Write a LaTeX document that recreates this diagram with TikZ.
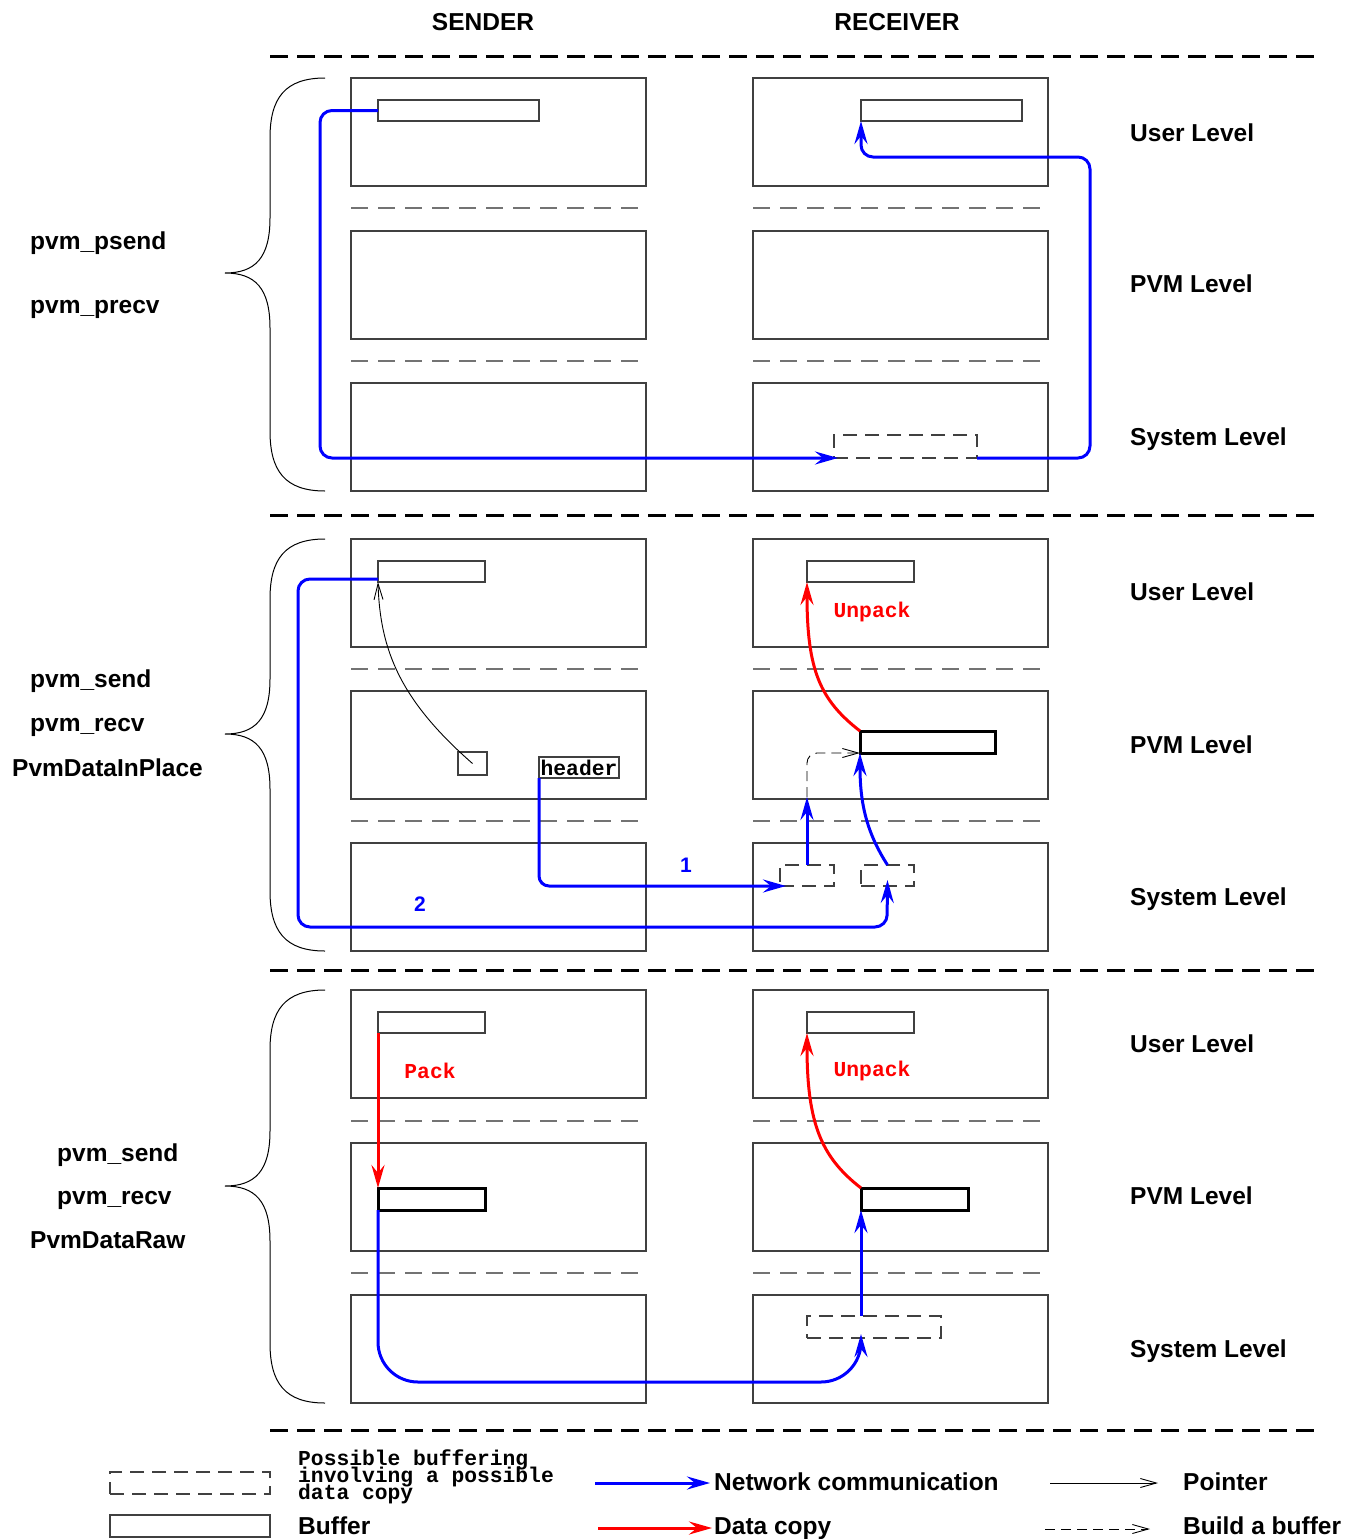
\documentclass[tikz,border=0pt]{standalone}
\usepackage{fontspec}
\setmainfont{Liberation Sans}
\newfontfamily\cour{Liberation Mono}
\usetikzlibrary{arrows.meta,calc}
\newcommand\tightls{\lineskiplimit=-30pt\relax\lineskip=0pt\relax}
\begin{document}
\begin{tikzpicture}[x=1pt,y=-1pt,
  lab/.style={font=\fontsize{24.5}{24.5}\selectfont\bfseries, anchor=base west, inner sep=0},
  ctr/.style={font=\fontsize{24.5}{24.5}\selectfont\bfseries, anchor=base, inner sep=0},
  cr/.style={font=\cour\fontsize{21.3}{17}\selectfont\bfseries\tightls, inner sep=0},
  num/.style={font=\fontsize{21}{21}\selectfont\bfseries, text=blue, anchor=base, inner sep=0},
  lvl/.style={draw=black!75, line width=1.3pt},
  sep/.style={draw=black!55, line width=1.3pt, dash pattern=on 17pt off 10pt},
  heavy/.style={draw=black, line width=3pt, dash pattern=on 18pt off 9pt},
  buf/.style={draw=black!75, line width=1.3pt, anchor=north west, inner sep=0, outer sep=0},
  tbuf/.style={draw=black, line width=3pt, anchor=north west, inner sep=0, outer sep=0},
  dbuf/.style={draw=black!75, line width=1.3pt, dash pattern=on 14pt off 8pt, anchor=north west, inner sep=0, outer sep=0},
  net/.style={draw=blue, line width=3pt, -{Stealth[length=23pt,width=13pt,inset=8pt]}},
  cpy/.style={draw=red, line width=3pt, -{Stealth[length=23pt,width=13pt,inset=8pt]}},
  ptr/.style={draw=black, line width=0.9pt, -{Straight Barb[length=16pt,width=9pt]}},
  bld/.style={ptr, dash pattern=on 10pt off 6pt},
  brace/.style={draw=black, line width=1pt},
]
\useasboundingbox (0,0) rectangle (1351,1539);

% column headers
\node[ctr] (snd) at (483,30) {SENDER};
\node[ctr] (rcv) at (897,30) {RECEIVER};

% heavy separators
\foreach \y in {56,515,970,1430} \draw[heavy] (270,\y) -- (1318,\y);

% level boxes
\foreach \y in {78,231,383,539,691,843,990,1143,1295} {
  \draw[lvl] (351,\y) rectangle (646,\y+108);
  \draw[lvl] (753,\y) rectangle (1048,\y+108);
}
% level separators
\foreach \y in {208,361,669,821,1121,1273} {
  \draw[sep] (351,\y) -- (646,\y);
  \draw[sep] (753,\y) -- (1048,\y);
}

% braces
\foreach \t/\b/\m in {78/491/273, 539/951/734, 990/1403/1186} {
  \draw[brace] (325,\t) .. controls (285,\t) and (270,\t+20) .. (270,\t+60)
    -- (270,\m-55) .. controls (270,\m-15) and (255,\m) .. (225,\m)
    .. controls (255,\m) and (270,\m+15) .. (270,\m+55)
    -- (270,\b-60) .. controls (270,\b-20) and (285,\b) .. (325,\b);
}

% left labels
\node[lab] (l1a) at (30,249) {pvm\_psend};
\node[lab] (l1b) at (30,313) {pvm\_precv};
\node[lab] (l2a) at (30,687) {pvm\_send};
\node[lab] (l2b) at (30,731) {pvm\_recv};
\node[lab] (l2c) at (12,776) {PvmDataInPlace};
\node[lab] (l3a) at (57,1161) {pvm\_send};
\node[lab] (l3b) at (57,1204) {pvm\_recv};
\node[lab] (l3c) at (30,1248) {PvmDataRaw};

% right labels
\foreach \n/\y/\t in {u1/141/User Level, p1/292/PVM Level, s1/445/System Level,
                      u2/600/User Level, p2/753/PVM Level, s2/905/System Level,
                      u3/1052/User Level, p3/1204/PVM Level, s3/1357/System Level} {
  \node[lab] (r\n) at (1130,\y) {\t};
}

% ===== Section 1 =====
\node[buf, minimum width=161, minimum height=21] (s1u) at (378,100) {};
\node[buf, minimum width=161, minimum height=21] (r1u) at (861,100) {};
\node[dbuf, minimum width=143, minimum height=23] (r1s) at (834,435) {};
\draw[net, rounded corners=12] (s1u.west) -- (320,110.5) -- (320,458) -- ($(r1s.south west)+(4,0)$);
\draw[net, rounded corners=12] (r1s.south east) -- (1090,458) -- (1090,157) -| (r1u.south west);

% ===== Section 2 =====
\node[buf, minimum width=107, minimum height=21] (s2u) at (378,561) {};
\node[buf, minimum width=107, minimum height=21] (r2u) at (807,561) {};
\node[text=red, cr] (up2) at (872,612) {Unpack};
\node[buf, minimum width=29, minimum height=23] (s2p) at (458,752) {};
\node[buf, cr, minimum width=80, minimum height=21] (hdr) at (539,757) {header};
\node[tbuf, minimum width=135, minimum height=22] (r2p) at (860,731) {};
\node[dbuf, minimum width=54, minimum height=21] (r2a) at (780,865) {};
\node[dbuf, minimum width=53, minimum height=21] (r2b) at (861,865) {};
\coordinate (bb) at (807,797);

\draw[ptr] (s2p.center) .. controls (400,700) and (380,650) .. (s2u.south west);
\draw[net, rounded corners=12] ($(s2u.south west)+(0,-3)$) -- (298,579) -- (298,927) -- (887,927) -- ($(r2b.south)+(0,-6)$);
\node[num] (n2) at (420,911) {2};
\draw[net, rounded corners=10] (hdr.south west) -- (539,886) -- ($(r2a.south west)+(6,0)$);
\node[num] (n1) at (686,872) {1};
\draw[net] (r2a.north) -- (bb);
\draw[bld, rounded corners=10] (bb) |- (r2p.south west);
\draw[net] (r2b.north) .. controls (865,830) and (860,800) .. (r2p.south west);
\draw[cpy] (r2p.north west) .. controls (820,700) and (807,670) .. (r2u.south west);

% ===== Section 3 =====
\node[buf, minimum width=107, minimum height=21] (s3u) at (378,1012) {};
\node[buf, minimum width=107, minimum height=21] (r3u) at (807,1012) {};
\node[text=red, cr] (pk3) at (430,1071) {Pack};
\node[text=red, cr] (up3) at (872,1071) {Unpack};
\node[tbuf, minimum width=107, minimum height=22] (s3p) at (378,1188) {};
\node[tbuf, minimum width=107, minimum height=22] (r3p) at (861,1188) {};
\node[dbuf, minimum width=134, minimum height=22] (r3s) at (807,1316) {};

\draw[cpy] (s3u.south west) -- (s3p.north west);
\draw[cpy] (r3p.north west) .. controls (821,1157) and (807,1123) .. (r3u.south west);
\draw[net, rounded corners=40] (s3p.south west) -- (378,1382) -- (861,1382) -- ($(r3p.south west |- r3s.south)+(0,-4)$);
\draw[net] (r3p.south west |- r3s.north) -- (r3p.south west);

% ===== Legend =====
\node[dbuf, minimum width=160, minimum height=22] (lg1) at (110,1472) {};
\node[buf, minimum width=160, minimum height=22] (lg2) at (110,1515) {};
\node[cr, anchor=base west, align=left] (lt1) at (298,1499) {Possible buffering\\involving a possible\\data copy};
\node[lab] (lt4) at (298,1534) {Buffer};

\coordinate (na) at (595,1483); \coordinate (nb) at (710,1483);
\draw[net] (na) -- (nb);
\node[lab] (lt5) at (714,1490) {Network communication};
\coordinate (ca) at (598,1528); \coordinate (cb) at (712,1528);
\draw[cpy] (ca) -- (cb);
\node[lab] (lt6) at (714,1534) {Data copy};

\coordinate (pa) at (1050,1483); \coordinate (pb) at (1158,1483);
\draw[ptr] (pa) -- (pb);
\node[lab] (lt7) at (1183,1490) {Pointer};
\coordinate (ba) at (1045,1529); \coordinate (bb2) at (1150,1529);
\draw[bld] (ba) -- (bb2);
\node[lab] (lt8) at (1183,1534) {Build a buffer};
\end{tikzpicture}
\end{document}
